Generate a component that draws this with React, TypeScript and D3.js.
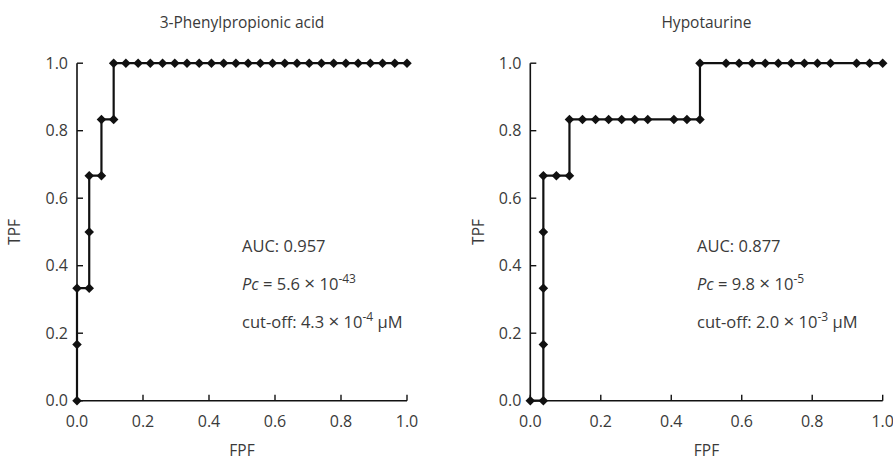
import React from 'react';
import * as d3 from 'd3';

// ROC data: counts of false positives (of 27 controls)
// and true positives (of 6 cases) at each cut-off
const nControls = 27;
const nCases = 6;

const phenylFp = [0, 0, 0, 1, 1, 1, 2, 2, 3, 3, 4, 5, 6, 7, 8, 9, 10, 11, 12, 13, 14, 15, 16, 17, 18, 19, 20, 21, 22, 23, 24, 25, 26, 27];
const phenylTp = [0, 1, 2, 2, 3, 4, 4, 5, 5, 6, 6, 6, 6, 6, 6, 6, 6, 6, 6, 6, 6, 6, 6, 6, 6, 6, 6, 6, 6, 6, 6, 6, 6, 6];

const hypoFp = [0, 1, 1, 1, 1, 1, 2, 3, 3, 4, 5, 6, 7, 8, 9, 11, 12, 13, 13, 15, 16, 17, 18, 19, 20, 21, 22, 23, 25, 26, 27];
const hypoTp = [0, 0, 1, 2, 3, 4, 4, 4, 5, 5, 5, 5, 5, 5, 5, 5, 5, 5, 6, 6, 6, 6, 6, 6, 6, 6, 6, 6, 6, 6, 6];

const ticks = [0, 0.2, 0.4, 0.6, 0.8, 1.0];

const FONT = "'Open Sans', 'Noto Sans', sans-serif";
const TXT = '#3a3a3a';

type Panel = {
  title: string;
  fp: number[];
  tp: number[];
  auc: string;
  pcMant: string;
  pcExp: string;
  cutMant: string;
  cutExp: string;
  x0: number;
  x1: number;
  textX: number;
  tpfX: number;
};

const panels: Panel[] = [
  { title: '3-Phenylpropionic acid', fp: phenylFp, tp: phenylTp, auc: '0.957', pcMant: '5.6', pcExp: '-43', cutMant: '4.3', cutExp: '-4', x0: 77, x1: 407, textX: 242, tpfX: 20 },
  { title: 'Hypotaurine', fp: hypoFp, tp: hypoTp, auc: '0.877', pcMant: '9.8', pcExp: '-5', cutMant: '2.0', cutExp: '-3', x0: 530.3, x1: 882.7, textX: 697, tpfX: 484 },
];

const yTop = 63.2, yBot = 400.7;

const RocPanel = ({ p }: { p: Panel }) => {
  const x = d3.scaleLinear().domain([0, 1]).range([p.x0, p.x1]);
  const y = d3.scaleLinear().domain([0, 1]).range([yBot, yTop]);
  const pts: [number, number][] = p.fp.map((f, i) => [f / nControls, p.tp[i] / nCases]);
  const line = d3.line<[number, number]>().x(d => x(d[0])).y(d => y(d[1]));
  const diamond = d3.symbol().type(d3.symbolDiamond2).size(58)();
  const mid = (p.x0 + p.x1) / 2;

  return (
    <g fontFamily={FONT} fill={TXT}>
      <text x={mid} y={28} textAnchor='middle' fontSize={15.5}>{p.title}</text>

      {/* axes with inward ticks */}
      <line x1={x(0)} x2={x(1)} y1={yBot} y2={yBot} stroke='#111' strokeWidth={1.6} />
      <line x1={p.x0} x2={p.x0} y1={yTop} y2={yBot} stroke='#111' strokeWidth={1.6} />
      {ticks.map(t => (
        <g key={'x' + t}>
          <line x1={x(t)} x2={x(t)} y1={yBot} y2={yBot - 6} stroke='#111' strokeWidth={1.4} />
          <text x={x(t)} y={427} textAnchor='middle' fontSize={16}>{t.toFixed(1)}</text>
        </g>
      ))}
      {ticks.map(t => (
        <g key={'y' + t}>
          <line x1={p.x0} x2={p.x0 + 6} y1={y(t)} y2={y(t)} stroke='#111' strokeWidth={1.4} />
          <text x={p.x0 - 9} y={y(t) + 5.5} textAnchor='end' fontSize={16}>{t.toFixed(1)}</text>
        </g>
      ))}
      <text x={x(0.5)} y={456} textAnchor='middle' fontSize={15.5}>FPF</text>
      <text transform={`translate(${p.tpfX},${(yTop + yBot) / 2}) rotate(-90)`} textAnchor='middle' fontSize={15.5}>TPF</text>

      {/* ROC step curve */}
      <path d={line(pts) || ''} fill='none' stroke='#111' strokeWidth={2.2} />
      {pts.map((d, i) => (
        <path key={i} d={diamond || ''} transform={`translate(${x(d[0])},${y(d[1])})`} fill='#111' />
      ))}

      {/* annotation */}
      <text x={p.textX} y={252} fontSize={16.5}>AUC: {p.auc}</text>
      <text x={p.textX} y={290} fontSize={16.5}>
        <tspan fontStyle='italic'>Pc</tspan> = {p.pcMant} <tspan fontSize={19}>×</tspan> 10
        <tspan dy={-7} fontSize={12}>{p.pcExp}</tspan>
      </text>
      <text x={p.textX} y={328} fontSize={16.5}>
        cut-off: {p.cutMant} <tspan fontSize={19}>×</tspan> 10
        <tspan dy={-7} fontSize={12}>{p.cutExp}</tspan>
        <tspan dy={7}> μM</tspan>
      </text>
    </g>
  );
};

export default function App() {
  return (
    <svg width={893} height={460} style={{ position: 'absolute', left: 0, top: 0, background: '#fff' }}>
      {panels.map(p => <RocPanel key={p.title} p={p} />)}
    </svg>
  );
}
